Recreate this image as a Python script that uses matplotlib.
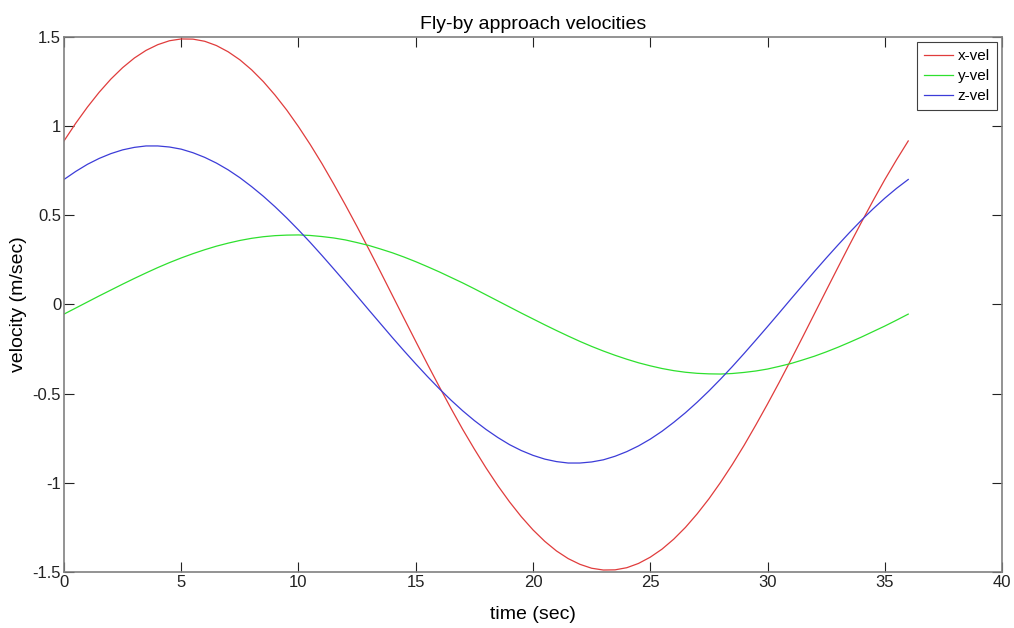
import numpy as np
import matplotlib
matplotlib.use('Agg')
import matplotlib.pyplot as plt

plt.rcParams['font.family'] = ['Liberation Sans', 'DejaVu Sans']

# time samples (sec), every half second
time = [i * 0.5 for i in range(73)]

# velocities (m/sec)
x_vel = [0.917, 1.016, 1.107, 1.190, 1.264, 1.328, 1.382, 1.425, 1.457, 1.479,
         1.489, 1.488, 1.476, 1.452, 1.417, 1.372, 1.316, 1.250, 1.174, 1.090,
         0.997, 0.897, 0.790, 0.676, 0.558, 0.436, 0.310, 0.182, 0.052, -0.078,
         -0.207, -0.335, -0.460, -0.582, -0.700, -0.811, -0.917, -1.016, -1.107,
         -1.190, -1.264, -1.328, -1.382, -1.425, -1.457, -1.479, -1.489, -1.488,
         -1.476, -1.452, -1.417, -1.372, -1.316, -1.250, -1.174, -1.090, -0.997,
         -0.897, -0.790, -0.676, -0.558, -0.436, -0.310, -0.182, -0.052, 0.078,
         0.207, 0.335, 0.460, 0.582, 0.700, 0.811, 0.917]
y_vel = [-0.054, -0.020, 0.014, 0.048, 0.081, 0.114, 0.146, 0.177, 0.207, 0.235,
         0.261, 0.285, 0.307, 0.327, 0.344, 0.359, 0.371, 0.380, 0.386, 0.389,
         0.390, 0.387, 0.381, 0.373, 0.362, 0.347, 0.331, 0.311, 0.290, 0.266,
         0.240, 0.212, 0.183, 0.152, 0.121, 0.088, 0.054, 0.020, -0.014, -0.048,
         -0.081, -0.114, -0.146, -0.177, -0.207, -0.235, -0.261, -0.285, -0.307,
         -0.327, -0.344, -0.359, -0.371, -0.380, -0.386, -0.389, -0.390, -0.387,
         -0.381, -0.373, -0.362, -0.347, -0.331, -0.311, -0.290, -0.266, -0.240,
         -0.212, -0.183, -0.152, -0.121, -0.088, -0.054]
z_vel = [0.701, 0.746, 0.786, 0.819, 0.846, 0.867, 0.881, 0.889, 0.889, 0.883,
         0.871, 0.851, 0.825, 0.793, 0.755, 0.711, 0.661, 0.607, 0.548, 0.485,
         0.418, 0.348, 0.275, 0.200, 0.124, 0.047, -0.031, -0.108, -0.185, -0.260,
         -0.333, -0.404, -0.472, -0.536, -0.596, -0.651, -0.701, -0.746, -0.786,
         -0.819, -0.846, -0.867, -0.881, -0.889, -0.889, -0.883, -0.871, -0.851,
         -0.825, -0.793, -0.755, -0.711, -0.661, -0.607, -0.548, -0.485, -0.418,
         -0.348, -0.275, -0.200, -0.124, -0.047, 0.031, 0.108, 0.185, 0.260,
         0.333, 0.404, 0.472, 0.536, 0.596, 0.651, 0.701]

xticks = [0, 5, 10, 15, 20, 25, 30, 35, 40]
yticks = [-1.5, -1, -0.5, 0, 0.5, 1, 1.5]
ytick_labels = ['-1.5', '-1', '-0.5', '0', '0.5', '1', '1.5']

fig = plt.figure(figsize=(10.14, 6.28), dpi=100)
ax = fig.add_axes([0.0631, 0.0892, 0.9251, 0.8519])

ax.plot(time, x_vel, color='#e03c3c', lw=0.9, label='x-vel')
ax.plot(time, y_vel, color='#2ee02e', lw=0.9, label='y-vel')
ax.plot(time, z_vel, color='#3c3cd8', lw=0.9, label='z-vel')

ax.set_xlim(0, 40)
ax.set_ylim(-1.5, 1.5)
ax.set_xticks(xticks)
ax.set_yticks(yticks)
ax.set_yticklabels(ytick_labels)
ax.tick_params(direction='in', top=True, right=True, length=7, width=0.8,
               labelsize=12, colors='#222222', pad=2)
for s in ax.spines.values():
    s.set_color('#808080')
    s.set_linewidth(1.2)

ax.set_title('Fly-by approach velocities', fontsize=14, pad=6)
ax.set_xlabel('time (sec)', fontsize=14, labelpad=12)
ax.set_ylabel('velocity (m/sec)', fontsize=14, labelpad=4)

leg = ax.legend(loc='upper right', fontsize=11, fancybox=False, framealpha=1,
                edgecolor='#404040', handlelength=1.9, handletextpad=0.3,
                borderpad=0.45, labelspacing=0.4, borderaxespad=0.35)
leg.get_frame().set_linewidth(0.8)

fig.savefig('out.png', dpi=100)
